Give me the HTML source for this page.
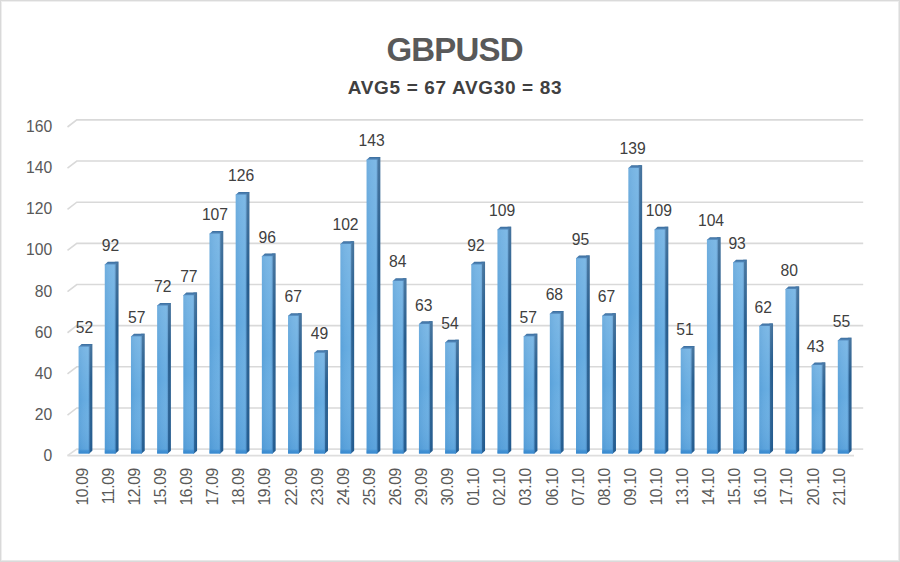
<!DOCTYPE html>
<html><head><meta charset="utf-8"><style>
html,body{margin:0;padding:0;background:#fff}
body{width:900px;height:562px;overflow:hidden;position:relative}
svg{position:absolute;left:0;top:0;display:block}
text{font-family:"Liberation Sans",sans-serif}
.gl{fill:none;stroke:#d9d9d9;stroke-width:1.6}
.fl{fill:none;stroke:#dedede;stroke-width:1.6}
.dl{font-size:15.7px;fill:#404040;text-anchor:middle}
.yl{font-size:15.7px;fill:#595959;text-anchor:end;dominant-baseline:central}
.xl{font-size:15.6px;letter-spacing:-0.35px;fill:#595959;text-anchor:end;dominant-baseline:central}
.t1{font-size:33px;letter-spacing:-0.8px;font-weight:bold;fill:#595959;text-anchor:middle}
.t2{font-size:19px;letter-spacing:0.65px;font-weight:bold;fill:#404040;text-anchor:middle}
</style></head><body>
<svg width="900" height="562" viewBox="0 0 900 562">
<defs>
<linearGradient id="gf" x1="0" y1="0" x2="1" y2="0">
<stop offset="0" stop-color="#59a1d9"/><stop offset="0.4" stop-color="#63a9df"/><stop offset="0.85" stop-color="#69aee2"/><stop offset="1" stop-color="#5a99cf"/>
</linearGradient>
<linearGradient id="gv" x1="0" y1="0" x2="0" y2="1">
<stop offset="0" stop-color="#ffffff" stop-opacity="0.14"/><stop offset="0.5" stop-color="#ffffff" stop-opacity="0"/><stop offset="1" stop-color="#1a70c0" stop-opacity="0.18"/>
</linearGradient>
<linearGradient id="gb" x1="0" y1="0" x2="0" y2="1">
<stop offset="0" stop-color="#3688cf" stop-opacity="0"/><stop offset="0.4" stop-color="#3688cf" stop-opacity="0.6"/><stop offset="1" stop-color="#3084cd" stop-opacity="0.85"/>
</linearGradient>
<linearGradient id="gsv" x1="0" y1="0" x2="0" y2="1">
<stop offset="0" stop-color="#ffffff" stop-opacity="0.16"/><stop offset="0.35" stop-color="#ffffff" stop-opacity="0"/><stop offset="1" stop-color="#0050a0" stop-opacity="0.12"/>
</linearGradient>
<linearGradient id="gs" x1="0" y1="0" x2="1" y2="0">
<stop offset="0" stop-color="#407aae"/><stop offset="0.4" stop-color="#2a6191"/><stop offset="1" stop-color="#22588a"/>
</linearGradient>
<linearGradient id="gt" x1="0" y1="1" x2="0" y2="0">
<stop offset="0" stop-color="#5d94c8"/><stop offset="1" stop-color="#3a6c9c"/>
</linearGradient>
</defs>
<rect x="0" y="0" width="900" height="562" fill="#fff"/>
<rect x="1" y="0" width="1" height="562" fill="#eeeeee"/>
<rect x="0" y="1" width="900" height="1" fill="#efefef"/>
<rect x="898" y="0" width="1" height="562" fill="#ececec"/>
<rect x="0" y="560" width="900" height="1" fill="#e8e8e8"/>
<rect x="0" y="0" width="1" height="562" fill="#d9d9d9"/>
<rect x="0" y="0" width="900" height="1" fill="#dadada"/>
<rect x="899" y="0" width="1" height="562" fill="#dcdcdc"/>
<rect x="0" y="561" width="900" height="1" fill="#dadada"/>
<path d="M67.50 415.05 L76.80 407.95 L863.20 407.95" class="gl"/>
<path d="M67.50 373.90 L76.80 366.80 L863.20 366.80" class="gl"/>
<path d="M67.50 332.75 L76.80 325.65 L863.20 325.65" class="gl"/>
<path d="M67.50 291.60 L76.80 284.50 L863.20 284.50" class="gl"/>
<path d="M67.50 250.45 L76.80 243.35 L863.20 243.35" class="gl"/>
<path d="M67.50 209.30 L76.80 202.20 L863.20 202.20" class="gl"/>
<path d="M67.50 168.15 L76.80 161.05 L863.20 161.05" class="gl"/>
<path d="M67.50 127.00 L76.80 119.90 L863.20 119.90" class="gl"/>
<path d="M67.50 455.60 L76.80 449.10 L863.20 449.10" class="fl"/>
<path d="M67.50 455.60 L854.00 455.60" class="fl"/>
<path d="M88.60 343.97 L92.35 343.97 L92.35 450.80 L89.30 453.50 L88.60 453.50Z" fill="url(#gs)"/>
<path d="M88.60 343.97 L92.35 343.97 L92.35 450.80 L89.30 453.50 L88.60 453.50Z" fill="url(#gsv)"/>
<path d="M78.60 347.37 L78.60 346.67 L81.65 343.97 L92.35 343.97 L89.30 346.67 L89.30 347.37Z" fill="url(#gt)"/>
<rect x="78.60" y="346.67" width="10.70" height="106.83" fill="url(#gf)"/>
<rect x="78.60" y="346.67" width="10.70" height="106.83" fill="url(#gv)"/>
<rect x="78.60" y="449.00" width="10.70" height="4.50" fill="url(#gb)"/>
<path d="M114.78 261.79 L118.53 261.79 L118.53 450.80 L115.48 453.50 L114.78 453.50Z" fill="url(#gs)"/>
<path d="M114.78 261.79 L118.53 261.79 L118.53 450.80 L115.48 453.50 L114.78 453.50Z" fill="url(#gsv)"/>
<path d="M104.78 265.19 L104.78 264.49 L107.83 261.79 L118.53 261.79 L115.48 264.49 L115.48 265.19Z" fill="url(#gt)"/>
<rect x="104.78" y="264.49" width="10.70" height="189.01" fill="url(#gf)"/>
<rect x="104.78" y="264.49" width="10.70" height="189.01" fill="url(#gv)"/>
<rect x="104.78" y="449.00" width="10.70" height="4.50" fill="url(#gb)"/>
<path d="M140.96 333.69 L144.71 333.69 L144.71 450.80 L141.66 453.50 L140.96 453.50Z" fill="url(#gs)"/>
<path d="M140.96 333.69 L144.71 333.69 L144.71 450.80 L141.66 453.50 L140.96 453.50Z" fill="url(#gsv)"/>
<path d="M130.96 337.09 L130.96 336.39 L134.01 333.69 L144.71 333.69 L141.66 336.39 L141.66 337.09Z" fill="url(#gt)"/>
<rect x="130.96" y="336.39" width="10.70" height="117.11" fill="url(#gf)"/>
<rect x="130.96" y="336.39" width="10.70" height="117.11" fill="url(#gv)"/>
<rect x="130.96" y="449.00" width="10.70" height="4.50" fill="url(#gb)"/>
<path d="M167.14 302.88 L170.89 302.88 L170.89 450.80 L167.84 453.50 L167.14 453.50Z" fill="url(#gs)"/>
<path d="M167.14 302.88 L170.89 302.88 L170.89 450.80 L167.84 453.50 L167.14 453.50Z" fill="url(#gsv)"/>
<path d="M157.14 306.28 L157.14 305.58 L160.19 302.88 L170.89 302.88 L167.84 305.58 L167.84 306.28Z" fill="url(#gt)"/>
<rect x="157.14" y="305.58" width="10.70" height="147.92" fill="url(#gf)"/>
<rect x="157.14" y="305.58" width="10.70" height="147.92" fill="url(#gv)"/>
<rect x="157.14" y="449.00" width="10.70" height="4.50" fill="url(#gb)"/>
<path d="M193.32 292.60 L197.07 292.60 L197.07 450.80 L194.02 453.50 L193.32 453.50Z" fill="url(#gs)"/>
<path d="M193.32 292.60 L197.07 292.60 L197.07 450.80 L194.02 453.50 L193.32 453.50Z" fill="url(#gsv)"/>
<path d="M183.32 296.00 L183.32 295.30 L186.37 292.60 L197.07 292.60 L194.02 295.30 L194.02 296.00Z" fill="url(#gt)"/>
<rect x="183.32" y="295.30" width="10.70" height="158.20" fill="url(#gf)"/>
<rect x="183.32" y="295.30" width="10.70" height="158.20" fill="url(#gv)"/>
<rect x="183.32" y="449.00" width="10.70" height="4.50" fill="url(#gb)"/>
<path d="M219.50 230.97 L223.25 230.97 L223.25 450.80 L220.20 453.50 L219.50 453.50Z" fill="url(#gs)"/>
<path d="M219.50 230.97 L223.25 230.97 L223.25 450.80 L220.20 453.50 L219.50 453.50Z" fill="url(#gsv)"/>
<path d="M209.50 234.37 L209.50 233.67 L212.55 230.97 L223.25 230.97 L220.20 233.67 L220.20 234.37Z" fill="url(#gt)"/>
<rect x="209.50" y="233.67" width="10.70" height="219.83" fill="url(#gf)"/>
<rect x="209.50" y="233.67" width="10.70" height="219.83" fill="url(#gv)"/>
<rect x="209.50" y="449.00" width="10.70" height="4.50" fill="url(#gb)"/>
<path d="M245.68 191.93 L249.43 191.93 L249.43 450.80 L246.38 453.50 L245.68 453.50Z" fill="url(#gs)"/>
<path d="M245.68 191.93 L249.43 191.93 L249.43 450.80 L246.38 453.50 L245.68 453.50Z" fill="url(#gsv)"/>
<path d="M235.68 195.33 L235.68 194.63 L238.73 191.93 L249.43 191.93 L246.38 194.63 L246.38 195.33Z" fill="url(#gt)"/>
<rect x="235.68" y="194.63" width="10.70" height="258.87" fill="url(#gf)"/>
<rect x="235.68" y="194.63" width="10.70" height="258.87" fill="url(#gv)"/>
<rect x="235.68" y="449.00" width="10.70" height="4.50" fill="url(#gb)"/>
<path d="M271.86 253.57 L275.61 253.57 L275.61 450.80 L272.56 453.50 L271.86 453.50Z" fill="url(#gs)"/>
<path d="M271.86 253.57 L275.61 253.57 L275.61 450.80 L272.56 453.50 L271.86 453.50Z" fill="url(#gsv)"/>
<path d="M261.86 256.97 L261.86 256.27 L264.91 253.57 L275.61 253.57 L272.56 256.27 L272.56 256.97Z" fill="url(#gt)"/>
<rect x="261.86" y="256.27" width="10.70" height="197.23" fill="url(#gf)"/>
<rect x="261.86" y="256.27" width="10.70" height="197.23" fill="url(#gv)"/>
<rect x="261.86" y="449.00" width="10.70" height="4.50" fill="url(#gb)"/>
<path d="M298.04 313.15 L301.79 313.15 L301.79 450.80 L298.74 453.50 L298.04 453.50Z" fill="url(#gs)"/>
<path d="M298.04 313.15 L301.79 313.15 L301.79 450.80 L298.74 453.50 L298.04 453.50Z" fill="url(#gsv)"/>
<path d="M288.04 316.55 L288.04 315.85 L291.09 313.15 L301.79 313.15 L298.74 315.85 L298.74 316.55Z" fill="url(#gt)"/>
<rect x="288.04" y="315.85" width="10.70" height="137.65" fill="url(#gf)"/>
<rect x="288.04" y="315.85" width="10.70" height="137.65" fill="url(#gv)"/>
<rect x="288.04" y="449.00" width="10.70" height="4.50" fill="url(#gb)"/>
<path d="M324.22 350.13 L327.97 350.13 L327.97 450.80 L324.92 453.50 L324.22 453.50Z" fill="url(#gs)"/>
<path d="M324.22 350.13 L327.97 350.13 L327.97 450.80 L324.92 453.50 L324.22 453.50Z" fill="url(#gsv)"/>
<path d="M314.22 353.53 L314.22 352.83 L317.27 350.13 L327.97 350.13 L324.92 352.83 L324.92 353.53Z" fill="url(#gt)"/>
<rect x="314.22" y="352.83" width="10.70" height="100.67" fill="url(#gf)"/>
<rect x="314.22" y="352.83" width="10.70" height="100.67" fill="url(#gv)"/>
<rect x="314.22" y="449.00" width="10.70" height="4.50" fill="url(#gb)"/>
<path d="M350.40 241.24 L354.15 241.24 L354.15 450.80 L351.10 453.50 L350.40 453.50Z" fill="url(#gs)"/>
<path d="M350.40 241.24 L354.15 241.24 L354.15 450.80 L351.10 453.50 L350.40 453.50Z" fill="url(#gsv)"/>
<path d="M340.40 244.64 L340.40 243.94 L343.45 241.24 L354.15 241.24 L351.10 243.94 L351.10 244.64Z" fill="url(#gt)"/>
<rect x="340.40" y="243.94" width="10.70" height="209.56" fill="url(#gf)"/>
<rect x="340.40" y="243.94" width="10.70" height="209.56" fill="url(#gv)"/>
<rect x="340.40" y="449.00" width="10.70" height="4.50" fill="url(#gb)"/>
<path d="M376.58 157.01 L380.33 157.01 L380.33 450.80 L377.28 453.50 L376.58 453.50Z" fill="url(#gs)"/>
<path d="M376.58 157.01 L380.33 157.01 L380.33 450.80 L377.28 453.50 L376.58 453.50Z" fill="url(#gsv)"/>
<path d="M366.58 160.41 L366.58 159.71 L369.63 157.01 L380.33 157.01 L377.28 159.71 L377.28 160.41Z" fill="url(#gt)"/>
<rect x="366.58" y="159.71" width="10.70" height="293.79" fill="url(#gf)"/>
<rect x="366.58" y="159.71" width="10.70" height="293.79" fill="url(#gv)"/>
<rect x="366.58" y="449.00" width="10.70" height="4.50" fill="url(#gb)"/>
<path d="M402.76 278.22 L406.51 278.22 L406.51 450.80 L403.46 453.50 L402.76 453.50Z" fill="url(#gs)"/>
<path d="M402.76 278.22 L406.51 278.22 L406.51 450.80 L403.46 453.50 L402.76 453.50Z" fill="url(#gsv)"/>
<path d="M392.76 281.62 L392.76 280.92 L395.81 278.22 L406.51 278.22 L403.46 280.92 L403.46 281.62Z" fill="url(#gt)"/>
<rect x="392.76" y="280.92" width="10.70" height="172.58" fill="url(#gf)"/>
<rect x="392.76" y="280.92" width="10.70" height="172.58" fill="url(#gv)"/>
<rect x="392.76" y="449.00" width="10.70" height="4.50" fill="url(#gb)"/>
<path d="M428.94 321.37 L432.69 321.37 L432.69 450.80 L429.64 453.50 L428.94 453.50Z" fill="url(#gs)"/>
<path d="M428.94 321.37 L432.69 321.37 L432.69 450.80 L429.64 453.50 L428.94 453.50Z" fill="url(#gsv)"/>
<path d="M418.94 324.77 L418.94 324.07 L421.99 321.37 L432.69 321.37 L429.64 324.07 L429.64 324.77Z" fill="url(#gt)"/>
<rect x="418.94" y="324.07" width="10.70" height="129.43" fill="url(#gf)"/>
<rect x="418.94" y="324.07" width="10.70" height="129.43" fill="url(#gv)"/>
<rect x="418.94" y="449.00" width="10.70" height="4.50" fill="url(#gb)"/>
<path d="M455.12 339.86 L458.87 339.86 L458.87 450.80 L455.82 453.50 L455.12 453.50Z" fill="url(#gs)"/>
<path d="M455.12 339.86 L458.87 339.86 L458.87 450.80 L455.82 453.50 L455.12 453.50Z" fill="url(#gsv)"/>
<path d="M445.12 343.26 L445.12 342.56 L448.17 339.86 L458.87 339.86 L455.82 342.56 L455.82 343.26Z" fill="url(#gt)"/>
<rect x="445.12" y="342.56" width="10.70" height="110.94" fill="url(#gf)"/>
<rect x="445.12" y="342.56" width="10.70" height="110.94" fill="url(#gv)"/>
<rect x="445.12" y="449.00" width="10.70" height="4.50" fill="url(#gb)"/>
<path d="M481.30 261.79 L485.05 261.79 L485.05 450.80 L482.00 453.50 L481.30 453.50Z" fill="url(#gs)"/>
<path d="M481.30 261.79 L485.05 261.79 L485.05 450.80 L482.00 453.50 L481.30 453.50Z" fill="url(#gsv)"/>
<path d="M471.30 265.19 L471.30 264.49 L474.35 261.79 L485.05 261.79 L482.00 264.49 L482.00 265.19Z" fill="url(#gt)"/>
<rect x="471.30" y="264.49" width="10.70" height="189.01" fill="url(#gf)"/>
<rect x="471.30" y="264.49" width="10.70" height="189.01" fill="url(#gv)"/>
<rect x="471.30" y="449.00" width="10.70" height="4.50" fill="url(#gb)"/>
<path d="M507.48 226.86 L511.23 226.86 L511.23 450.80 L508.18 453.50 L507.48 453.50Z" fill="url(#gs)"/>
<path d="M507.48 226.86 L511.23 226.86 L511.23 450.80 L508.18 453.50 L507.48 453.50Z" fill="url(#gsv)"/>
<path d="M497.48 230.26 L497.48 229.56 L500.53 226.86 L511.23 226.86 L508.18 229.56 L508.18 230.26Z" fill="url(#gt)"/>
<rect x="497.48" y="229.56" width="10.70" height="223.94" fill="url(#gf)"/>
<rect x="497.48" y="229.56" width="10.70" height="223.94" fill="url(#gv)"/>
<rect x="497.48" y="449.00" width="10.70" height="4.50" fill="url(#gb)"/>
<path d="M533.66 333.69 L537.41 333.69 L537.41 450.80 L534.36 453.50 L533.66 453.50Z" fill="url(#gs)"/>
<path d="M533.66 333.69 L537.41 333.69 L537.41 450.80 L534.36 453.50 L533.66 453.50Z" fill="url(#gsv)"/>
<path d="M523.66 337.09 L523.66 336.39 L526.71 333.69 L537.41 333.69 L534.36 336.39 L534.36 337.09Z" fill="url(#gt)"/>
<rect x="523.66" y="336.39" width="10.70" height="117.11" fill="url(#gf)"/>
<rect x="523.66" y="336.39" width="10.70" height="117.11" fill="url(#gv)"/>
<rect x="523.66" y="449.00" width="10.70" height="4.50" fill="url(#gb)"/>
<path d="M559.84 311.09 L563.59 311.09 L563.59 450.80 L560.54 453.50 L559.84 453.50Z" fill="url(#gs)"/>
<path d="M559.84 311.09 L563.59 311.09 L563.59 450.80 L560.54 453.50 L559.84 453.50Z" fill="url(#gsv)"/>
<path d="M549.84 314.49 L549.84 313.79 L552.89 311.09 L563.59 311.09 L560.54 313.79 L560.54 314.49Z" fill="url(#gt)"/>
<rect x="549.84" y="313.79" width="10.70" height="139.71" fill="url(#gf)"/>
<rect x="549.84" y="313.79" width="10.70" height="139.71" fill="url(#gv)"/>
<rect x="549.84" y="449.00" width="10.70" height="4.50" fill="url(#gb)"/>
<path d="M586.02 255.62 L589.77 255.62 L589.77 450.80 L586.72 453.50 L586.02 453.50Z" fill="url(#gs)"/>
<path d="M586.02 255.62 L589.77 255.62 L589.77 450.80 L586.72 453.50 L586.02 453.50Z" fill="url(#gsv)"/>
<path d="M576.02 259.02 L576.02 258.32 L579.07 255.62 L589.77 255.62 L586.72 258.32 L586.72 259.02Z" fill="url(#gt)"/>
<rect x="576.02" y="258.32" width="10.70" height="195.18" fill="url(#gf)"/>
<rect x="576.02" y="258.32" width="10.70" height="195.18" fill="url(#gv)"/>
<rect x="576.02" y="449.00" width="10.70" height="4.50" fill="url(#gb)"/>
<path d="M612.20 313.15 L615.95 313.15 L615.95 450.80 L612.90 453.50 L612.20 453.50Z" fill="url(#gs)"/>
<path d="M612.20 313.15 L615.95 313.15 L615.95 450.80 L612.90 453.50 L612.20 453.50Z" fill="url(#gsv)"/>
<path d="M602.20 316.55 L602.20 315.85 L605.25 313.15 L615.95 313.15 L612.90 315.85 L612.90 316.55Z" fill="url(#gt)"/>
<rect x="602.20" y="315.85" width="10.70" height="137.65" fill="url(#gf)"/>
<rect x="602.20" y="315.85" width="10.70" height="137.65" fill="url(#gv)"/>
<rect x="602.20" y="449.00" width="10.70" height="4.50" fill="url(#gb)"/>
<path d="M638.38 165.22 L642.13 165.22 L642.13 450.80 L639.08 453.50 L638.38 453.50Z" fill="url(#gs)"/>
<path d="M638.38 165.22 L642.13 165.22 L642.13 450.80 L639.08 453.50 L638.38 453.50Z" fill="url(#gsv)"/>
<path d="M628.38 168.62 L628.38 167.92 L631.43 165.22 L642.13 165.22 L639.08 167.92 L639.08 168.62Z" fill="url(#gt)"/>
<rect x="628.38" y="167.92" width="10.70" height="285.58" fill="url(#gf)"/>
<rect x="628.38" y="167.92" width="10.70" height="285.58" fill="url(#gv)"/>
<rect x="628.38" y="449.00" width="10.70" height="4.50" fill="url(#gb)"/>
<path d="M664.56 226.86 L668.31 226.86 L668.31 450.80 L665.26 453.50 L664.56 453.50Z" fill="url(#gs)"/>
<path d="M664.56 226.86 L668.31 226.86 L668.31 450.80 L665.26 453.50 L664.56 453.50Z" fill="url(#gsv)"/>
<path d="M654.56 230.26 L654.56 229.56 L657.61 226.86 L668.31 226.86 L665.26 229.56 L665.26 230.26Z" fill="url(#gt)"/>
<rect x="654.56" y="229.56" width="10.70" height="223.94" fill="url(#gf)"/>
<rect x="654.56" y="229.56" width="10.70" height="223.94" fill="url(#gv)"/>
<rect x="654.56" y="449.00" width="10.70" height="4.50" fill="url(#gb)"/>
<path d="M690.74 346.02 L694.49 346.02 L694.49 450.80 L691.44 453.50 L690.74 453.50Z" fill="url(#gs)"/>
<path d="M690.74 346.02 L694.49 346.02 L694.49 450.80 L691.44 453.50 L690.74 453.50Z" fill="url(#gsv)"/>
<path d="M680.74 349.42 L680.74 348.72 L683.79 346.02 L694.49 346.02 L691.44 348.72 L691.44 349.42Z" fill="url(#gt)"/>
<rect x="680.74" y="348.72" width="10.70" height="104.78" fill="url(#gf)"/>
<rect x="680.74" y="348.72" width="10.70" height="104.78" fill="url(#gv)"/>
<rect x="680.74" y="449.00" width="10.70" height="4.50" fill="url(#gb)"/>
<path d="M716.92 237.13 L720.67 237.13 L720.67 450.80 L717.62 453.50 L716.92 453.50Z" fill="url(#gs)"/>
<path d="M716.92 237.13 L720.67 237.13 L720.67 450.80 L717.62 453.50 L716.92 453.50Z" fill="url(#gsv)"/>
<path d="M706.92 240.53 L706.92 239.83 L709.97 237.13 L720.67 237.13 L717.62 239.83 L717.62 240.53Z" fill="url(#gt)"/>
<rect x="706.92" y="239.83" width="10.70" height="213.67" fill="url(#gf)"/>
<rect x="706.92" y="239.83" width="10.70" height="213.67" fill="url(#gv)"/>
<rect x="706.92" y="449.00" width="10.70" height="4.50" fill="url(#gb)"/>
<path d="M743.10 259.73 L746.85 259.73 L746.85 450.80 L743.80 453.50 L743.10 453.50Z" fill="url(#gs)"/>
<path d="M743.10 259.73 L746.85 259.73 L746.85 450.80 L743.80 453.50 L743.10 453.50Z" fill="url(#gsv)"/>
<path d="M733.10 263.13 L733.10 262.43 L736.15 259.73 L746.85 259.73 L743.80 262.43 L743.80 263.13Z" fill="url(#gt)"/>
<rect x="733.10" y="262.43" width="10.70" height="191.07" fill="url(#gf)"/>
<rect x="733.10" y="262.43" width="10.70" height="191.07" fill="url(#gv)"/>
<rect x="733.10" y="449.00" width="10.70" height="4.50" fill="url(#gb)"/>
<path d="M769.28 323.42 L773.03 323.42 L773.03 450.80 L769.98 453.50 L769.28 453.50Z" fill="url(#gs)"/>
<path d="M769.28 323.42 L773.03 323.42 L773.03 450.80 L769.98 453.50 L769.28 453.50Z" fill="url(#gsv)"/>
<path d="M759.28 326.82 L759.28 326.12 L762.33 323.42 L773.03 323.42 L769.98 326.12 L769.98 326.82Z" fill="url(#gt)"/>
<rect x="759.28" y="326.12" width="10.70" height="127.38" fill="url(#gf)"/>
<rect x="759.28" y="326.12" width="10.70" height="127.38" fill="url(#gv)"/>
<rect x="759.28" y="449.00" width="10.70" height="4.50" fill="url(#gb)"/>
<path d="M795.46 286.44 L799.21 286.44 L799.21 450.80 L796.16 453.50 L795.46 453.50Z" fill="url(#gs)"/>
<path d="M795.46 286.44 L799.21 286.44 L799.21 450.80 L796.16 453.50 L795.46 453.50Z" fill="url(#gsv)"/>
<path d="M785.46 289.84 L785.46 289.14 L788.51 286.44 L799.21 286.44 L796.16 289.14 L796.16 289.84Z" fill="url(#gt)"/>
<rect x="785.46" y="289.14" width="10.70" height="164.36" fill="url(#gf)"/>
<rect x="785.46" y="289.14" width="10.70" height="164.36" fill="url(#gv)"/>
<rect x="785.46" y="449.00" width="10.70" height="4.50" fill="url(#gb)"/>
<path d="M821.64 362.46 L825.39 362.46 L825.39 450.80 L822.34 453.50 L821.64 453.50Z" fill="url(#gs)"/>
<path d="M821.64 362.46 L825.39 362.46 L825.39 450.80 L822.34 453.50 L821.64 453.50Z" fill="url(#gsv)"/>
<path d="M811.64 365.86 L811.64 365.16 L814.69 362.46 L825.39 362.46 L822.34 365.16 L822.34 365.86Z" fill="url(#gt)"/>
<rect x="811.64" y="365.16" width="10.70" height="88.34" fill="url(#gf)"/>
<rect x="811.64" y="365.16" width="10.70" height="88.34" fill="url(#gv)"/>
<rect x="811.64" y="449.00" width="10.70" height="4.50" fill="url(#gb)"/>
<path d="M847.82 337.80 L851.57 337.80 L851.57 450.80 L848.52 453.50 L847.82 453.50Z" fill="url(#gs)"/>
<path d="M847.82 337.80 L851.57 337.80 L851.57 450.80 L848.52 453.50 L847.82 453.50Z" fill="url(#gsv)"/>
<path d="M837.82 341.20 L837.82 340.50 L840.87 337.80 L851.57 337.80 L848.52 340.50 L848.52 341.20Z" fill="url(#gt)"/>
<rect x="837.82" y="340.50" width="10.70" height="113.00" fill="url(#gf)"/>
<rect x="837.82" y="340.50" width="10.70" height="113.00" fill="url(#gv)"/>
<rect x="837.82" y="449.00" width="10.70" height="4.50" fill="url(#gb)"/>
<text x="52.30" y="455.70" class="yl">0</text>
<text x="52.30" y="414.55" class="yl">20</text>
<text x="52.30" y="373.40" class="yl">40</text>
<text x="52.30" y="332.25" class="yl">60</text>
<text x="52.30" y="291.10" class="yl">80</text>
<text x="52.30" y="249.95" class="yl">100</text>
<text x="52.30" y="208.80" class="yl">120</text>
<text x="52.30" y="167.65" class="yl">140</text>
<text x="52.30" y="126.50" class="yl">160</text>
<text x="84.45" y="333.17" class="dl">52</text>
<text transform="translate(82.20 468.20) rotate(-90)" x="0" y="0" class="xl">10.09</text>
<text x="110.56" y="250.99" class="dl">92</text>
<text transform="translate(108.30 468.20) rotate(-90)" x="0" y="0" class="xl">11.09</text>
<text x="136.66" y="322.89" class="dl">57</text>
<text transform="translate(134.40 468.20) rotate(-90)" x="0" y="0" class="xl">12.09</text>
<text x="162.77" y="292.08" class="dl">72</text>
<text transform="translate(160.50 468.20) rotate(-90)" x="0" y="0" class="xl">15.09</text>
<text x="188.88" y="281.80" class="dl">77</text>
<text transform="translate(186.60 468.20) rotate(-90)" x="0" y="0" class="xl">16.09</text>
<text x="214.99" y="220.17" class="dl">107</text>
<text transform="translate(212.70 468.20) rotate(-90)" x="0" y="0" class="xl">17.09</text>
<text x="241.09" y="181.13" class="dl">126</text>
<text transform="translate(238.80 468.20) rotate(-90)" x="0" y="0" class="xl">18.09</text>
<text x="267.20" y="242.77" class="dl">96</text>
<text transform="translate(264.90 468.20) rotate(-90)" x="0" y="0" class="xl">19.09</text>
<text x="293.31" y="302.35" class="dl">67</text>
<text transform="translate(291.00 468.20) rotate(-90)" x="0" y="0" class="xl">22.09</text>
<text x="319.41" y="339.33" class="dl">49</text>
<text transform="translate(317.10 468.20) rotate(-90)" x="0" y="0" class="xl">23.09</text>
<text x="345.52" y="230.44" class="dl">102</text>
<text transform="translate(343.20 468.20) rotate(-90)" x="0" y="0" class="xl">24.09</text>
<text x="371.63" y="146.21" class="dl">143</text>
<text transform="translate(369.30 468.20) rotate(-90)" x="0" y="0" class="xl">25.09</text>
<text x="397.73" y="267.42" class="dl">84</text>
<text transform="translate(395.40 468.20) rotate(-90)" x="0" y="0" class="xl">26.09</text>
<text x="423.84" y="310.57" class="dl">63</text>
<text transform="translate(421.50 468.20) rotate(-90)" x="0" y="0" class="xl">29.09</text>
<text x="449.95" y="329.06" class="dl">54</text>
<text transform="translate(447.60 468.20) rotate(-90)" x="0" y="0" class="xl">30.09</text>
<text x="476.06" y="250.99" class="dl">92</text>
<text transform="translate(473.70 468.20) rotate(-90)" x="0" y="0" class="xl">01.10</text>
<text x="502.16" y="216.06" class="dl">109</text>
<text transform="translate(499.80 468.20) rotate(-90)" x="0" y="0" class="xl">02.10</text>
<text x="528.27" y="322.89" class="dl">57</text>
<text transform="translate(525.90 468.20) rotate(-90)" x="0" y="0" class="xl">03.10</text>
<text x="554.38" y="300.29" class="dl">68</text>
<text transform="translate(552.00 468.20) rotate(-90)" x="0" y="0" class="xl">06.10</text>
<text x="580.48" y="244.82" class="dl">95</text>
<text transform="translate(578.10 468.20) rotate(-90)" x="0" y="0" class="xl">07.10</text>
<text x="606.59" y="302.35" class="dl">67</text>
<text transform="translate(604.20 468.20) rotate(-90)" x="0" y="0" class="xl">08.10</text>
<text x="632.70" y="154.42" class="dl">139</text>
<text transform="translate(630.30 468.20) rotate(-90)" x="0" y="0" class="xl">09.10</text>
<text x="658.80" y="216.06" class="dl">109</text>
<text transform="translate(656.40 468.20) rotate(-90)" x="0" y="0" class="xl">10.10</text>
<text x="684.91" y="335.22" class="dl">51</text>
<text transform="translate(682.50 468.20) rotate(-90)" x="0" y="0" class="xl">13.10</text>
<text x="711.02" y="226.33" class="dl">104</text>
<text transform="translate(708.60 468.20) rotate(-90)" x="0" y="0" class="xl">14.10</text>
<text x="737.12" y="248.93" class="dl">93</text>
<text transform="translate(734.70 468.20) rotate(-90)" x="0" y="0" class="xl">15.10</text>
<text x="763.23" y="312.62" class="dl">62</text>
<text transform="translate(760.80 468.20) rotate(-90)" x="0" y="0" class="xl">16.10</text>
<text x="789.34" y="275.64" class="dl">80</text>
<text transform="translate(786.90 468.20) rotate(-90)" x="0" y="0" class="xl">17.10</text>
<text x="815.45" y="351.66" class="dl">43</text>
<text transform="translate(813.00 468.20) rotate(-90)" x="0" y="0" class="xl">20.10</text>
<text x="841.55" y="327.00" class="dl">55</text>
<text transform="translate(839.10 468.20) rotate(-90)" x="0" y="0" class="xl">21.10</text>
<text x="454.6" y="60.9" class="t1">GBPUSD</text>
<text x="455.0" y="94.0" class="t2">AVG5 = 67 AVG30 = 83</text>
</svg>
</body></html>
